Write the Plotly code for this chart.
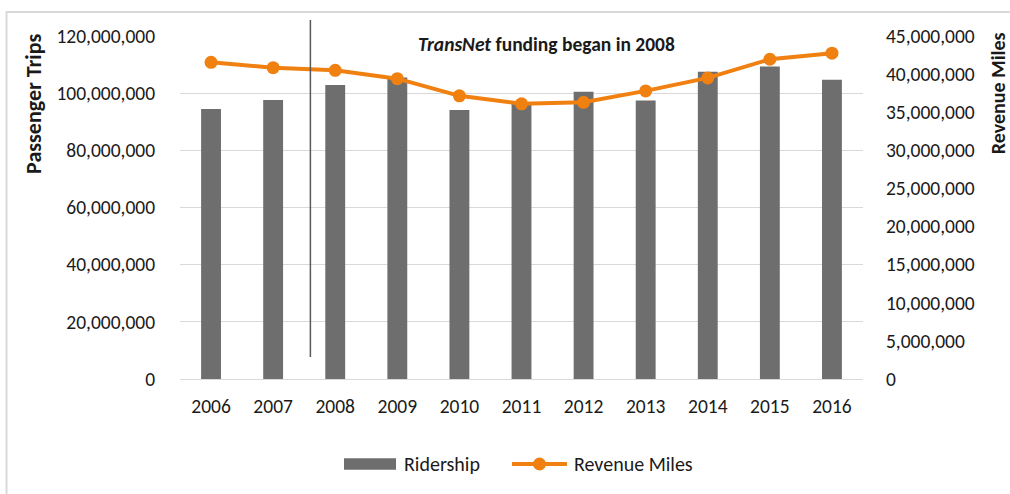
import plotly.graph_objects as go

# Annual ridership and revenue miles, 2006-2016
years = ["2006", "2007", "2008", "2009", "2010", "2011",
         "2012", "2013", "2014", "2015", "2016"]
ridership = [94.5e6, 97.6e6, 102.9e6, 105.5e6, 94.1e6, 96.5e6,
             100.5e6, 97.4e6, 107.5e6, 109.3e6, 104.7e6]
revenue_miles = [41.55e6, 40.85e6, 40.5e6, 39.4e6, 37.15e6, 36.1e6,
                 36.3e6, 37.8e6, 39.5e6, 41.95e6, 42.75e6]

left_ticks = [0, 20e6, 40e6, 60e6, 80e6, 100e6, 120e6]
right_ticks = [0, 5e6, 10e6, 15e6, 20e6, 25e6, 30e6, 35e6, 40e6, 45e6]

FONT = "Carlito, Calibri, Lato, sans-serif"
TEXT = "#1a1a1a"
GRAY = "#6E6E6E"
ORANGE = "#F08010"
GRID = "#D9D9D9"
TICK_SIZE = 19.5

fig = go.Figure()
fig.add_trace(go.Bar(
    x=years, y=ridership, name="Ridership",
    marker=dict(color=GRAY, line=dict(width=0)),
    yaxis="y", showlegend=False,
))
fig.add_trace(go.Scatter(
    x=years, y=revenue_miles, name="Revenue Miles",
    mode="lines+markers",
    line=dict(color=ORANGE, width=4),
    marker=dict(color=ORANGE, size=13),
    yaxis="y2", showlegend=False,
))

fig.update_layout(
    width=1010, height=494,
    margin=dict(l=180, r=147, t=36, b=115),
    paper_bgcolor="white", plot_bgcolor="white",
    font=dict(family=FONT, size=TICK_SIZE, color=TEXT),
    bargap=0.68,
    showlegend=False,
    xaxis=dict(
        type="category", range=[-0.5, len(years) - 0.5],
        showgrid=False, zeroline=False,
        ticks="outside", ticklen=10, tickcolor="rgba(0,0,0,0)",
        tickfont=dict(size=TICK_SIZE), showline=False,
    ),
    yaxis=dict(
        range=[0, 120e6], tickvals=left_ticks,
        tickformat=",d", showgrid=True, gridcolor=GRID, gridwidth=1,
        zeroline=True, zerolinecolor=GRID, zerolinewidth=1,
        ticks="outside", ticklen=20, tickcolor="rgba(0,0,0,0)",
        tickfont=dict(size=TICK_SIZE), showline=False,
    ),
    yaxis2=dict(
        range=[0, 45e6], tickvals=right_ticks,
        tickformat=",d", overlaying="y", side="right",
        showgrid=False, zeroline=False,
        ticks="outside", ticklen=18, tickcolor="rgba(0,0,0,0)",
        tickfont=dict(size=TICK_SIZE), showline=False,
    ),
)

# Axis titles
fig.add_annotation(text="<b>Passenger Trips</b>", xref="paper", yref="paper",
                   x=-0.2138, y=0.802, xanchor="center", yanchor="middle",
                   textangle=-90, showarrow=False,
                   font=dict(size=22, color=TEXT))
fig.add_annotation(text="<b>Revenue Miles</b>", xref="paper", yref="paper",
                   x=1.1980, y=0.834, xanchor="center", yanchor="middle",
                   textangle=-90, showarrow=False,
                   font=dict(size=20, color=TEXT))

# Funding marker between 2007 and 2008
fig.add_shape(type="line", xref="x", yref="paper",
              x0=1.6, x1=1.6, y0=0.064, y1=1.0466,
              line=dict(color="#595959", width=1.5))
fig.add_annotation(text="<b><i>TransNet</i> funding began in 2008</b>",
                   xref="paper", yref="paper", x=0.536, y=0.977,
                   xanchor="center", yanchor="middle",
                   showarrow=False, font=dict(size=19.5, color=TEXT))

# Legend drawn below the plot
LEG_Y = -0.2478
fig.add_shape(type="rect", xref="paper", yref="paper",
              x0=0.2401, x1=0.3163, y0=LEG_Y - 0.017, y1=LEG_Y + 0.017,
              fillcolor=GRAY, line=dict(width=0))
fig.add_annotation(text="Ridership", xref="paper", yref="paper",
                   x=0.3250, y=LEG_Y, xanchor="left", yanchor="middle",
                   showarrow=False, font=dict(size=20, color=TEXT))
fig.add_shape(type="line", xref="paper", yref="paper",
              x0=0.4861, x1=0.5666, y0=LEG_Y, y1=LEG_Y,
              line=dict(color=ORANGE, width=4))
fig.add_shape(type="circle", xref="paper", yref="paper",
              x0=0.5264 - 0.0095, x1=0.5264 + 0.0095,
              y0=LEG_Y - 0.019, y1=LEG_Y + 0.019,
              fillcolor=ORANGE, line=dict(width=0))
fig.add_annotation(text="Revenue Miles", xref="paper", yref="paper",
                   x=0.5739, y=LEG_Y, xanchor="left", yanchor="middle",
                   showarrow=False, font=dict(size=20, color=TEXT))

# Chart border
fig.add_shape(type="rect", xref="paper", yref="paper",
              x0=-0.254, x1=1.25, y0=-0.40, y1=1.070,
              line=dict(color=GRID, width=2), layer="below")

fig.write_html("out.html")
